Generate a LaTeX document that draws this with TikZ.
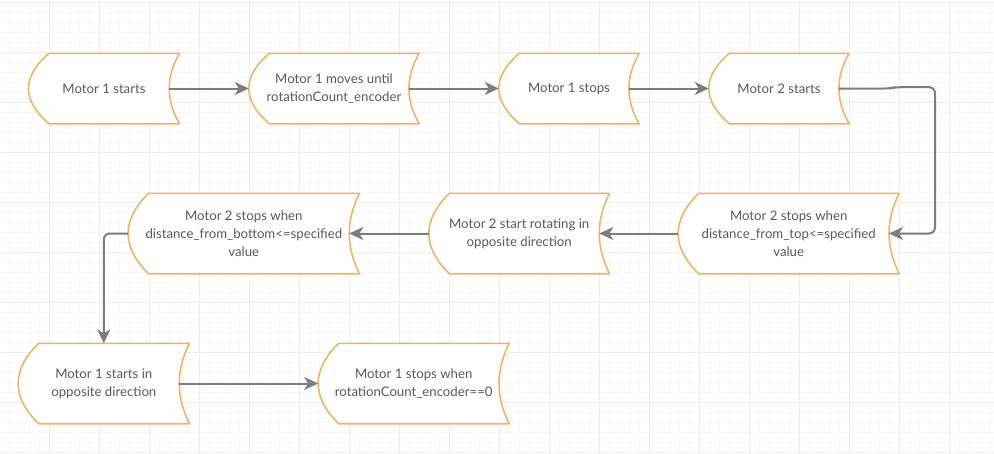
\documentclass[tikz,border=0pt]{standalone}
\usepackage{fontspec}
\setmainfont{Lato}
\usetikzlibrary{arrows.meta,calc}
\definecolor{tapeorange}{RGB}{241,180,107}
\definecolor{conngray}{RGB}{125,125,125}
\definecolor{txtgray}{RGB}{89,89,89}
\definecolor{gridmajor}{RGB}{237,237,237}
\definecolor{gridminor}{RGB}{248,248,248}
\newcommand\sdep{20.5}
\newcommand\drawtape[1]{%
  \draw[tapeline] ($(#1.north west)+(\sdep,0)$) -- (#1.north east)
    .. controls ($(#1.north east)!1/3!(#1.south east)+(-2/3*\sdep,0)$) and ($(#1.north east)!2/3!(#1.south east)+(-2/3*\sdep,0)$) .. (#1.south east)
    -- ($(#1.south west)+(\sdep,0)$)
    .. controls ($(#1.north west)!2/3!(#1.south west)+(-1/3*\sdep,0)$) and ($(#1.north west)!1/3!(#1.south west)+(-1/3*\sdep,0)$) .. cycle;}
\pgfdeclarelayer{gridlayer}
\pgfdeclarelayer{shapelayer}
\pgfsetlayers{gridlayer,shapelayer,main}
\begin{document}
\begin{tikzpicture}[x=1pt,y=-1pt,
  tapenode/.style={draw=none, inner sep=0pt, align=center, text=txtgray,
    font=\fontsize{13.2}{18}\selectfont},
  tapeline/.style={draw=tapeorange, fill=white, line width=1.6pt, line join=round},
  conn/.style={draw=conngray, line width=2pt,
    -{Stealth[length=14pt,width=13pt,inset=4pt]}}]
\useasboundingbox (0,0) rectangle (994,453);
\begin{pgfonlayer}{gridlayer}
  \fill[white] (0,0) rectangle (994,453);
  \foreach \gx in {9.3,19.3,...,994} {\draw[gridminor, line width=1pt] (\gx,0) -- (\gx,453);}
  \foreach \gy in {2.7,12.7,...,453} {\draw[gridminor, line width=1pt] (0,\gy) -- (994,\gy);}
  \foreach \gx in {49.3,99.3,...,994} {\draw[gridmajor, line width=1.2pt] (\gx,0) -- (\gx,453);}
  \foreach \gy in {2.7,52.7,...,453} {\draw[gridmajor, line width=1.2pt] (0,\gy) -- (994,\gy);}
\end{pgfonlayer}

\node[tapenode, minimum width=150.6pt, minimum height=70pt] (m1s) at (104,88.5) {Motor 1 starts};
\node[tapenode, minimum width=170pt, minimum height=70pt] (m1m) at (334,88.5) {Motor 1 moves until\\rotationCount\_encoder};
\node[tapenode, minimum width=140pt, minimum height=70pt] (m1st) at (569,88.5) {Motor 1 stops};
\node[tapenode, minimum width=140pt, minimum height=70pt] (m2s) at (779,88.5) {Motor 2 starts};
\node[tapenode, minimum width=220.7pt, minimum height=80pt] (m2sw) at (788.7,233.5) {Motor 2 stops when\\distance\_from\_top<=specified\\value};
\node[tapenode, minimum width=180.3pt, minimum height=80pt] (m2r) at (519.2,233.5) {Motor 2 start rotating in\\opposite direction};
\node[tapenode, minimum width=231pt, minimum height=80pt] (m2sb) at (243.8,233.5) {Motor 2 stops when\\distance\_from\_bottom<=specified\\value};
\node[tapenode, minimum width=171pt, minimum height=80pt] (m1o) at (103.8,383.5) {Motor 1 starts in\\opposite direction};
\node[tapenode, minimum width=190.7pt, minimum height=80pt] (m1sw) at (413.7,383.5) {Motor 1 stops when\\rotationCount\_encoder==0};

\begin{pgfonlayer}{shapelayer}
  \foreach \n in {m1s,m1m,m1st,m2s,m2sw,m2r,m2sb,m1o,m1sw} {\drawtape{\n}}
\end{pgfonlayer}
\foreach \n in {m1s,m1m,m1st,m2s,m2sw,m2r,m2sb,m1o,m1sw} {\coordinate (\n-r) at ($(\n.east)+(-0.5*\sdep,0)$);}
\coordinate (bend) at (935,87.2);

\draw[conn] (m1s-r) -- (m1m.west);
\draw[conn] (m1m-r) -- (m1st.west);
\draw[conn] (m1st-r) -- (m2s.west);
\draw[conn, rounded corners=6pt] (m2s-r) -- ++(51,0) -- ++(5,-1.3) -- (bend) |- (m2sw-r);
\draw[conn] (m2sw.west) -- (m2r-r);
\draw[conn] (m2r.west) -- (m2sb-r);
\draw[conn, rounded corners=6pt] (m2sb.west) -| (m1o.north);
\draw[conn] (m1o-r) -- (m1sw.west);
\end{tikzpicture}
\end{document}
